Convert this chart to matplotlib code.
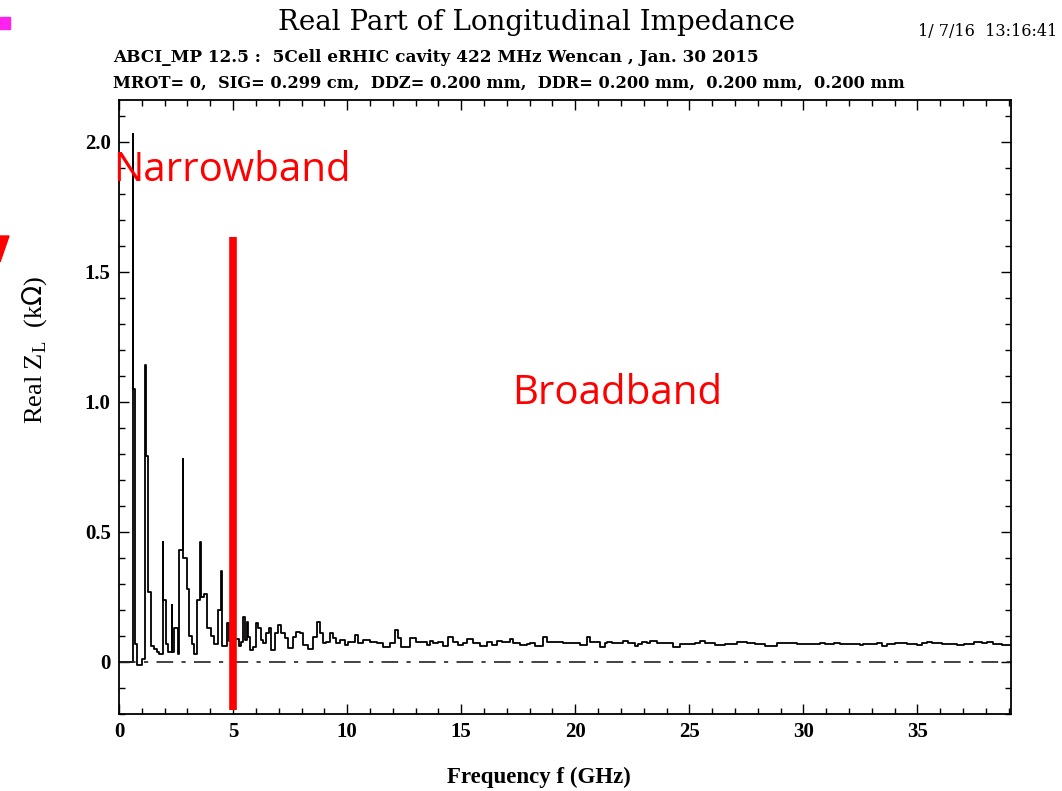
import matplotlib
matplotlib.use("Agg")
import matplotlib.pyplot as plt
from matplotlib.ticker import MultipleLocator, FixedLocator
from matplotlib.patches import Rectangle, Polygon

# Real part of longitudinal impedance (steps-post)
freq_ghz = [0.00, 0.60, 0.63, 0.72, 0.80, 1.02, 1.15, 1.19, 1.29, 1.41,
            1.55, 1.66, 1.76, 1.92, 1.95, 2.08, 2.14, 2.31, 2.34, 2.40,
            2.58, 2.65, 2.79, 2.82, 2.98, 3.08, 3.18, 3.30, 3.42, 3.56,
            3.60, 3.74, 3.86, 4.03, 4.18, 4.34, 4.47, 4.51, 4.72, 4.84,
            5.00, 5.26, 5.33, 5.44, 5.51, 5.59, 5.66, 5.73, 5.88, 6.00,
            6.10, 6.24, 6.32, 6.46, 6.58, 6.68, 6.83, 6.97, 7.12, 7.27,
            7.41, 7.63, 7.78, 7.93, 8.07, 8.29, 8.51, 8.66, 8.80, 8.95,
            9.09, 9.24, 9.38, 9.53, 9.68, 9.90, 10.04, 10.33, 10.48, 10.70,
            11.00, 11.29, 11.58, 11.87, 12.09, 12.24, 12.38, 12.75, 13.04, 13.48,
            13.63, 13.77, 13.99, 14.21, 14.43, 14.65, 14.87, 15.09, 15.24, 15.53,
            15.82, 16.11, 16.33, 16.55, 16.77, 17.14, 17.28, 17.57, 17.87, 18.01,
            18.23, 18.60, 18.74, 19.18, 19.48, 20.21, 20.50, 20.64, 21.08, 21.30,
            21.37, 21.59, 22.03, 22.11, 22.33, 22.62, 22.77, 22.91, 23.13, 23.28,
            23.57, 24.30, 24.59, 25.25, 25.47, 25.69, 26.13, 26.57, 27.08, 27.30,
            27.52, 27.88, 28.32, 28.83, 29.71, 30.29, 30.73, 30.95, 31.32, 31.61,
            32.50, 32.60, 33.22, 33.44, 33.66, 34.03, 34.54, 34.97, 35.19, 35.41,
            35.63, 35.85, 36.07, 36.73, 37.02, 37.46, 37.82, 38.04, 38.33, 38.70,
            39.10]
re_zl_kohm = [0.000, 2.030, 1.050, 0.070, -0.010, 0.010, 1.140, 0.790, 0.270, 0.060,
              0.050, 0.040, 0.030, 0.460, 0.240, 0.070, 0.040, 0.220, 0.040, 0.130,
              0.030, 0.430, 0.780, 0.400, 0.280, 0.100, 0.070, 0.030, 0.240, 0.460,
              0.250, 0.260, 0.130, 0.100, 0.070, 0.200, 0.350, 0.060, 0.150, 0.080,
              0.090, 0.060, 0.078, 0.174, 0.084, 0.155, 0.097, 0.046, 0.059, 0.148,
              0.129, 0.084, 0.072, 0.110, 0.129, 0.046, 0.110, 0.142, 0.110, 0.091,
              0.052, 0.097, 0.117, 0.110, 0.065, 0.050, 0.097, 0.155, 0.110, 0.072,
              0.078, 0.110, 0.091, 0.072, 0.084, 0.065, 0.078, 0.104, 0.072, 0.084,
              0.078, 0.074, 0.059, 0.072, 0.123, 0.091, 0.059, 0.091, 0.078, 0.066,
              0.082, 0.072, 0.078, 0.062, 0.097, 0.078, 0.066, 0.074, 0.087, 0.072,
              0.062, 0.078, 0.066, 0.082, 0.078, 0.087, 0.072, 0.066, 0.070, 0.072,
              0.062, 0.097, 0.078, 0.075, 0.074, 0.066, 0.097, 0.078, 0.059, 0.072,
              0.078, 0.072, 0.072, 0.081, 0.074, 0.062, 0.070, 0.078, 0.072, 0.082,
              0.072, 0.059, 0.068, 0.072, 0.082, 0.072, 0.066, 0.068, 0.076, 0.078,
              0.072, 0.070, 0.062, 0.072, 0.068, 0.068, 0.072, 0.068, 0.074, 0.070,
              0.066, 0.070, 0.074, 0.062, 0.068, 0.074, 0.068, 0.065, 0.072, 0.076,
              0.072, 0.074, 0.068, 0.067, 0.070, 0.076, 0.071, 0.076, 0.068, 0.067,
              0.067]

x_major = [0, 5, 10, 15, 20, 25, 30, 35]
y_major = [0, 0.5, 1.0, 1.5, 2.0]
y_labels = ["0", "0.5", "1.0", "1.5", "2.0"]

W, H = 1062, 791
fig = plt.figure(figsize=(W / 100, H / 100), dpi=100)
ax = fig.add_axes([119 / W, 1 - 714 / H, (1011 - 119) / W, (714 - 100) / H])

ax.plot(freq_ghz, re_zl_kohm, drawstyle="steps-post", color="black", lw=1.3)
ax.axhline(0, color="#222222", lw=1.2, ls=(0, (10, 5, 2.5, 5)))

# the hand-drawn red separator at 5 GHz
ax.plot([5.0, 5.0], [-0.185, 1.635], color="#ff0000", lw=5.5, solid_capstyle="butt",
        clip_on=False, zorder=5)

ax.set_xlim(0, 39.1)
ax.set_ylim(-0.2, 2.16)

serif = "Liberation Serif"
wide = "DejaVu Serif"
ax.xaxis.set_major_locator(FixedLocator(x_major))
ax.xaxis.set_minor_locator(MultipleLocator(1))
ax.yaxis.set_major_locator(FixedLocator(y_major))
ax.yaxis.set_minor_locator(MultipleLocator(0.1))
ax.set_yticklabels(y_labels)
ax.tick_params(which="both", direction="in", top=True, right=True, width=1.0)
ax.tick_params(which="major", length=7, labelsize=15, pad=6)
ax.tick_params(which="minor", length=4)
for lab in ax.get_xticklabels() + ax.get_yticklabels():
    lab.set_fontfamily(serif)
    lab.set_fontweight("bold")
for sp in ax.spines.values():
    sp.set_linewidth(1.3)

fig.text(447 / W, 1 - 783 / H, "Frequency f (GHz)", family=serif, weight="bold",
         fontsize=16.5, ha="left", va="baseline")
fig.text(35 / W, 1 - 350 / H, r"Real Z$_\mathregular{L}$  (k$\Omega$)", family=serif,
         fontsize=19, rotation=90, ha="center", va="center")

fig.text(536 / W, 1 - 30 / H, "Real Part of Longitudinal Impedance", family=wide,
         fontsize=20, ha="center", va="baseline")
fig.text(1057 / W, 1 - 36 / H, "1/ 7/16  13:16:41", family=wide, fontsize=11.5,
         ha="right", va="baseline")
fig.text(113 / W, 1 - 62 / H, "ABCI_MP 12.5 :  5Cell eRHIC cavity 422 MHz Wencan , Jan. 30 2015",
         family=wide, weight="bold", fontsize=12.2, ha="left", va="baseline")
fig.text(113 / W, 1 - 88 / H,
         "MROT= 0,  SIG= 0.299 cm,  DDZ= 0.200 mm,  DDR= 0.200 mm,  0.200 mm,  0.200 mm",
         family=wide, weight="bold", fontsize=11.7, ha="left", va="baseline")

fig.text(113 / W, 1 - 181 / H, "Narrowband", family="Open Sans", color="#ff0000",
         fontsize=29, ha="left", va="baseline", zorder=6)
fig.text(512 / W, 1 - 404 / H, "Broadband", family="Open Sans", color="#ff0000",
         fontsize=29, ha="left", va="baseline")

# fragments of the slide cut off at the left edge
fig.patches.append(Rectangle((0, 1 - 29 / H), 10 / W, 12 / H, transform=fig.transFigure,
                             color="#ff22ee", zorder=3))
fig.patches.append(Polygon([(0, 1 - 236 / H), (9 / W, 1 - 236 / H), (0, 1 - 262 / H)],
                           closed=True, transform=fig.transFigure, color="#ff0000"))

fig.savefig("out.png", dpi=100)
